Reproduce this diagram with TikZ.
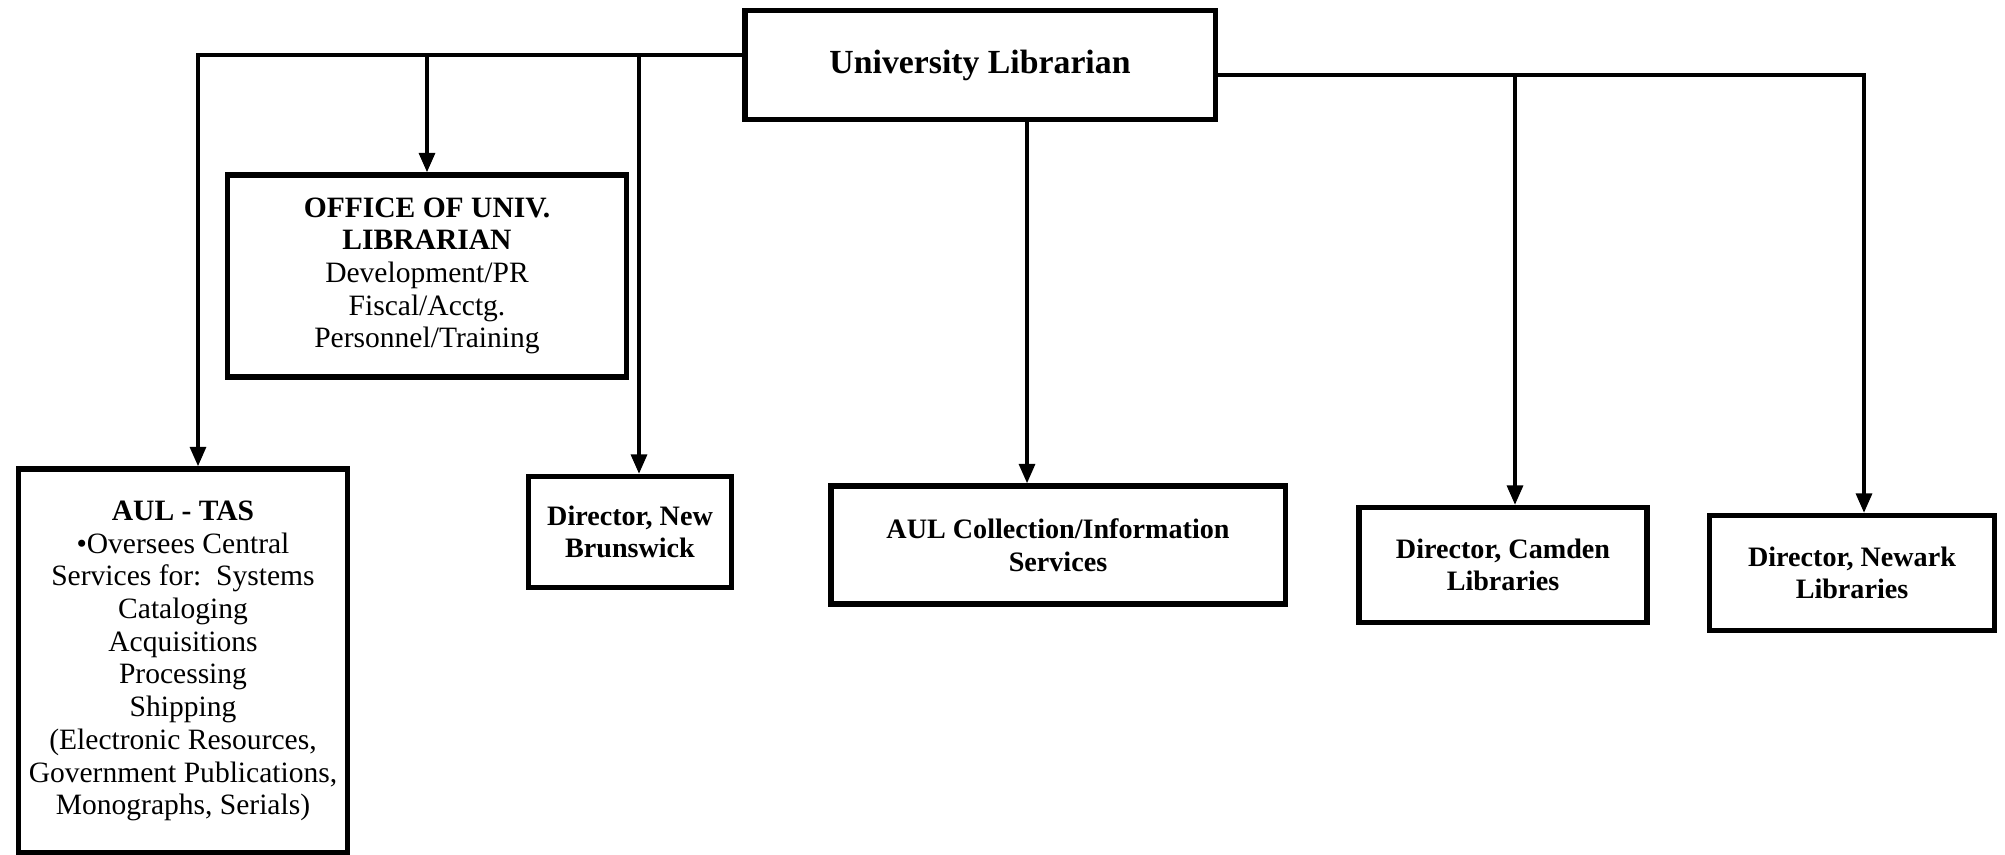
\documentclass[tikz,border=0pt]{standalone}
\usepackage{fontspec}
\setmainfont{Liberation Serif}
\usepackage{tikz}
\usetikzlibrary{calc,arrows.meta,positioning}

\begin{document}
\begin{tikzpicture}[x=0.01cm,y=-0.01cm,
    unit/.style={draw,line width=1.5pt,align=center,inner sep=0pt,
      font=\fontsize{8.4}{9.3}\selectfont},
    link/.style={line width=1pt,-{Triangle[length=5.5pt,width=4.5pt]}},
    bus/.style={line width=1pt}]
  \useasboundingbox (0,0) rectangle (2005,855);
  % top
  \node[unit,minimum width=4.7cm,minimum height=1.09cm,
    font=\fontsize{9.6}{10}\selectfont\bfseries] (ul) at (980,65) {University Librarian};
  % units
  \node[unit,minimum width=3.99cm,minimum height=2.02cm] (office) at (427,276)
    {\textbf{OFFICE OF UNIV.}\\ \textbf{LIBRARIAN}\\ Development/PR\\ Fiscal/Acctg.\\ Personnel/Training};
  \node[unit,minimum width=3.29cm,minimum height=3.84cm] (tas) at (183,661)
    {\textbf{AUL - TAS}\\ \textbullet Oversees Central\\ Services for:\ \ Systems\\ Cataloging\\
     Acquisitions\\ Processing\\ Shipping\\ (Electronic Resources,\\
     Government Publications,\\ Monographs, Serials)};
  \node[unit,minimum width=2.03cm,minimum height=1.11cm,font=\fontsize{8}{9.3}\selectfont\bfseries]
    (nb) at (630,532) {Director, New\\ Brunswick};
  \node[unit,minimum width=4.54cm,minimum height=1.18cm,font=\fontsize{8}{9.3}\selectfont\bfseries]
    (coll) at (1058,545) {AUL Collection/Information\\ Services};
  \node[unit,minimum width=2.88cm,minimum height=1.15cm,font=\fontsize{8}{9.3}\selectfont\bfseries]
    (camden) at (1503,565) {Director, Camden\\ Libraries};
  \node[unit,minimum width=2.85cm,minimum height=1.15cm,font=\fontsize{8}{9.3}\selectfont\bfseries]
    (newark) at (1852,573) {Director, Newark\\ Libraries};
  % buses
  \coordinate (lbus) at ([yshift=1mm]ul.west);
  \coordinate (rbus) at ([yshift=-1mm]ul.east);
  \draw[link] (lbus) -| ([xshift=1.5mm]tas.north);
  \draw[link] (office.north |- lbus) -- (office.north);
  \draw[link] ([xshift=0.9mm]nb.north |- lbus) -- ([xshift=0.9mm]nb.north);
  \draw[link] ([xshift=4.7mm]ul.south) -- ([xshift=4.7mm]ul.south |- coll.north);
  \draw[link] (rbus) -| ([xshift=1.2mm]newark.north);
  \draw[link] ([xshift=1.2mm]camden.north |- rbus) -- ([xshift=1.2mm]camden.north);
\end{tikzpicture}
\end{document}
